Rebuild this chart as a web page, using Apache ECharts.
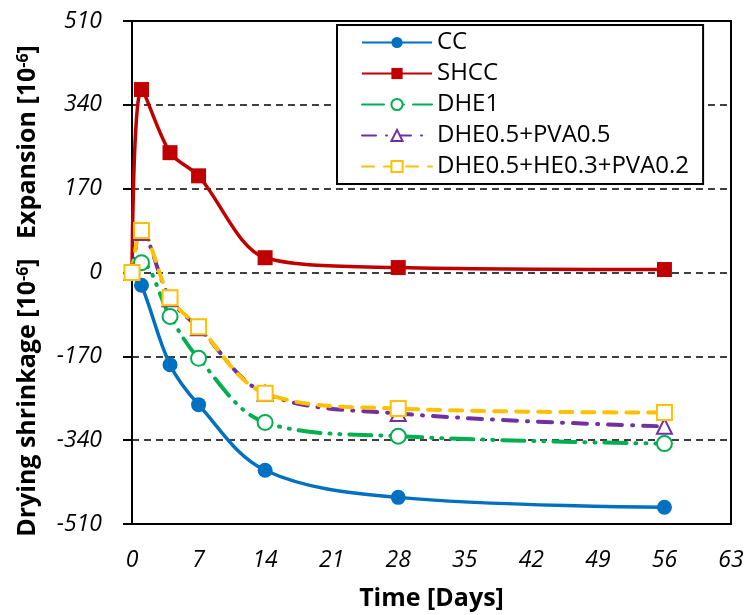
<!DOCTYPE html>
<html>
<head>
<meta charset="utf-8">
<script src="https://cdn.jsdelivr.net/npm/echarts@6/dist/echarts.min.js"></script>
<style>html,body{margin:0;padding:0;background:#fff}#c{width:747px;height:615px}</style>
</head>
<body>
<div id="c"></div>
<script>
var days = [0, 1, 4, 7, 14, 28, 56];
var seriesNames = ['CC', 'SHCC', 'DHE1', 'DHE0.5+PVA0.5', 'DHE0.5+HE0.3+PVA0.2'];
var ccValues = [0, -26, -187, -268, -401, -456, -476];
var shccValues = [0, 371, 243, 196, 30, 10, 6];
var dhe1Values = [0, 20, -89, -174, -304, -332, -347];
var dhePvaValues = [0, 81, -53, -112, -245, -286, -312];
var dheHePvaValues = [0, 85, -51, -110, -245, -276, -284];
var xTicks = [0, 7, 14, 21, 28, 35, 42, 49, 56, 63];
var yTicks = [-510, -340, -170, 0, 170, 340, 510];

function pairs(vals) { return days.map(function (d, i) { return [d, vals[i]]; }); }

var FONT = 'Open Sans';
var chart = echarts.init(document.getElementById('c'));
var option = {
  backgroundColor: '#fff',
  animation: false,
  textStyle: { fontFamily: FONT },
  grid: { left: 132, right: 16, top: 21, bottom: 91, show: true, borderColor: '#000', borderWidth: 2, backgroundColor: 'transparent', containLabel: false, outerBoundsMode: 'none' },
  xAxis: {
    type: 'value', min: xTicks[0], max: xTicks[xTicks.length - 1], interval: 7,
    axisLine: { onZero: false, lineStyle: { color: '#000', width: 2 } },
    axisTick: { show: false },
    splitLine: { show: false },
    axisLabel: { color: '#000', fontSize: 23, fontStyle: 'italic', fontFamily: FONT, margin: 25 },
    name: 'Time [Days]', nameLocation: 'middle', nameGap: 62,
    nameTextStyle: { color: '#000', fontSize: 25, fontWeight: 'bold', fontFamily: FONT }
  },
  yAxis: {
    type: 'value', min: yTicks[0], max: yTicks[yTicks.length - 1], interval: 170,
    axisLine: { onZero: false, lineStyle: { color: '#000', width: 2 } },
    axisTick: { show: true, inside: false, length: 9, lineStyle: { color: '#000', width: 2 } },
    splitLine: { show: true, lineStyle: { color: '#000', width: 1.5, type: [7, 5] } },
    axisLabel: { color: '#000', fontSize: 23, fontStyle: 'italic', fontFamily: FONT, margin: 30 }
  },
  legend: {
    orient: 'vertical', left: 337, top: 25,
    padding: [5, 14, 5, 24],
    itemWidth: 70, itemHeight: 14, itemGap: 6,
    backgroundColor: '#fff', borderColor: '#000', borderWidth: 2,
    textStyle: { color: '#000', fontSize: 24, fontFamily: FONT, lineHeight: 25 },
    data: seriesNames
  },
  graphic: [{
    type: 'text', x: 28, y: 291, rotation: Math.PI / 2,
    style: {
      text: '{a|Drying shrinkage [10}{s|-6}{a|]   Expansion [10}{s|-6}{a|]}',
      align: 'center', verticalAlign: 'middle',
      rich: {
        a: { fontSize: 25, fontWeight: 'bold', fontFamily: FONT, fill: '#000', color: '#000' },
        s: { fontSize: 16, fontWeight: 'bold', fontFamily: FONT, fill: '#000', color: '#000', verticalAlign: 'top' }
      }
    }
  }],
  series: [
    {
      name: seriesNames[0], type: 'line', smooth: 0.35, data: pairs(ccValues),
      symbol: 'circle', symbolSize: 15,
      itemStyle: { color: '#0070C0' },
      lineStyle: { color: '#0070C0', width: 3.5 }
    },
    {
      name: seriesNames[1], type: 'line', smooth: 0.3, data: pairs(shccValues),
      symbol: 'rect', symbolSize: 15,
      itemStyle: { color: '#C00000' },
      lineStyle: { color: '#C00000', width: 3.5 }
    },
    {
      name: seriesNames[2], type: 'line', smooth: 0.35, data: pairs(dhe1Values),
      symbol: 'emptyCircle', symbolSize: 15,
      itemStyle: { color: '#00B050', borderWidth: 2 },
      lineStyle: { color: '#00B050', width: 4, type: [22, 9, 1, 9, 1, 9], cap: 'round' }
    },
    {
      name: seriesNames[3], type: 'line', smooth: 0.35, data: pairs(dhePvaValues),
      symbol: 'emptyTriangle', symbolSize: 15,
      itemStyle: { color: '#7030A0', borderWidth: 2 },
      lineStyle: { color: '#7030A0', width: 4, type: [14, 10, 1, 10], cap: 'round' }
    },
    {
      name: seriesNames[4], type: 'line', smooth: 0.35, data: pairs(dheHePvaValues),
      symbol: 'emptyRect', symbolSize: 15,
      itemStyle: { color: '#FFC000', borderWidth: 2 },
      lineStyle: { color: '#FFC000', width: 4, type: [12, 10], cap: 'round' }
    }
  ]
};
chart.setOption(option);
</script>
</body>
</html>
